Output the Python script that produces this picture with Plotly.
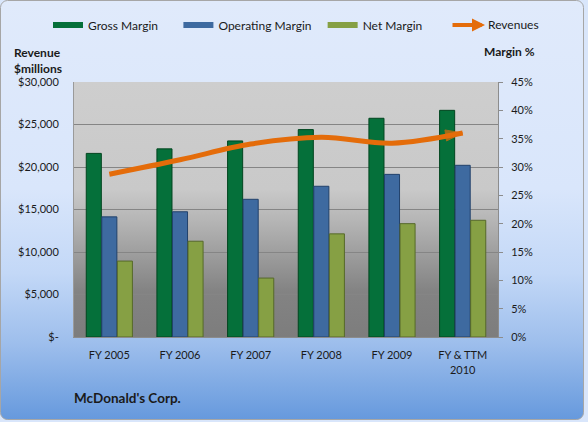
import base64
import plotly.graph_objects as go

categories = ["FY 2005", "FY 2006", "FY 2007", "FY 2008", "FY 2009", "FY & TTM<br>2010"]
gross_margin = [0.324, 0.332, 0.346, 0.366, 0.386, 0.400]
operating_margin = [0.212, 0.221, 0.243, 0.266, 0.287, 0.303]
net_margin = [0.134, 0.169, 0.104, 0.182, 0.200, 0.206]
revenues = [19150, 20850, 22700, 23500, 22800, 24000]

rev_ticks = [0, 5000, 10000, 15000, 20000, 25000, 30000]
rev_ticktext = ["$-", "$5,000", "$10,000", "$15,000", "$20,000", "$25,000", "$30,000"]

W, H = 588, 422
ML, MR, MT, MB = 74, 90, 82, 85
PW, PH = W - ML - MR, H - MT - MB

FONT = "Lato, 'Noto Sans', sans-serif"
GREEN, BLUE, OLIVE, ORANGE = "#05703a", "#3e6aa0", "#86a044", "#e46c0a"
NB = "\u00a0"


def px_x(p):
    return (p - ML) / PW


def px_y(p):
    return 1 - (p - MT) / PH


def svg_uri(svg):
    return "data:image/svg+xml;base64," + base64.b64encode(svg.encode()).decode()


paper_svg = f"""<svg xmlns='http://www.w3.org/2000/svg' width='{W}' height='{H}' viewBox='0 0 {W} {H}' preserveAspectRatio='none'>
<defs><linearGradient id='g' x1='0' y1='0' x2='0' y2='1'>
<stop offset='0' stop-color='#e0eafb'/><stop offset='0.45' stop-color='#d9e6fb'/>
<stop offset='0.65' stop-color='#c3d8f7'/><stop offset='0.82' stop-color='#9dbeec'/>
<stop offset='1' stop-color='#6699dd'/></linearGradient></defs>
<rect x='0.5' y='0.5' width='{W-5}' height='{H-3}' rx='7' ry='7' fill='url(#g)' stroke='#a6a6a6' stroke-width='1'/>
</svg>"""

plot_svg = """<svg xmlns='http://www.w3.org/2000/svg' width='100' height='100' viewBox='0 0 100 100' preserveAspectRatio='none'>
<defs><linearGradient id='p' x1='0' y1='0' x2='0' y2='1'>
<stop offset='0' stop-color='#cecece'/><stop offset='0.42' stop-color='#c9c9c9'/>
<stop offset='0.55' stop-color='#b4b4b4'/><stop offset='0.82' stop-color='#838383'/>
<stop offset='1' stop-color='#7d7d7d'/></linearGradient></defs>
<rect x='0' y='0' width='100' height='100' fill='url(#p)'/>
</svg>"""

fig = go.Figure()

for name, pad, vals, col, edge in [
    ("Gross Margin", 5, gross_margin, GREEN, "#02451f"),
    ("Operating Margin", 2, operating_margin, BLUE, "#22426b"),
    ("Net Margin", 0, net_margin, OLIVE, "#56692a"),
]:
    fig.add_trace(go.Bar(
        x=categories, y=vals, name=name, yaxis="y", showlegend=False,
        marker=dict(color=col, line=dict(color=edge, width=1)),
    ))
    fig.add_trace(go.Scatter(
        x=[None], y=[None], name=name + NB * pad, mode="lines", yaxis="y",
        line=dict(color=col, width=6), showlegend=True,
    ))

fig.add_trace(go.Scatter(
    x=categories, y=revenues, name="Revenues", yaxis="y2", mode="lines+markers",
    line=dict(color=ORANGE, width=5, shape="spline", smoothing=1),
    marker=dict(symbol=["circle"] * 5 + ["arrow"], size=[0] * 5 + [18],
                angleref="previous", color=ORANGE,
                line=dict(color=ORANGE, width=1)),
    showlegend=False,
))

fig.update_layout(
    width=W, height=H,
    margin=dict(l=ML, r=MR, t=MT, b=MB, autoexpand=False),
    paper_bgcolor="#d9e6fb",
    plot_bgcolor="rgba(0,0,0,0)",
    font=dict(family=FONT, size=11, color="#1a1a1a"),
    barmode="group", bargap=0.34, bargroupgap=0.03,
    xaxis=dict(showline=True, linecolor="#8c8c8c", ticks="", showgrid=False,
               tickfont=dict(size=11), ticklabelstandoff=8),
    yaxis=dict(side="right", range=[0, 0.45], dtick=0.05, tickformat=".0%",
               showgrid=False, zeroline=False, showline=True, linecolor="#8c8c8c",
               ticks="outside", ticklen=4, tickcolor="#8c8c8c",
               tickfont=dict(size=11), ticklabelstandoff=6),
    yaxis2=dict(side="left", overlaying="y", range=[0, 30000],
                tickvals=rev_ticks, ticktext=rev_ticktext,
                showgrid=True, gridcolor="#858585", gridwidth=1, zeroline=False,
                showline=True, linecolor="#9a9a9a", ticks="",
                tickfont=dict(size=11), ticklabelstandoff=12),
    legend=dict(orientation="h", xref="paper", yref="paper",
                x=px_x(48), y=px_y(25), xanchor="left", yanchor="middle",
                font=dict(size=12), bgcolor="rgba(0,0,0,0)", itemwidth=30,
                traceorder="normal"),
    images=[
        dict(source=svg_uri(paper_svg), xref="paper", yref="paper",
             x=px_x(0), y=px_y(0), sizex=W / PW, sizey=H / PH,
             sizing="stretch", layer="below", xanchor="left", yanchor="top"),
        dict(source=svg_uri(plot_svg), xref="paper", yref="paper",
             x=0, y=1, sizex=1, sizey=1,
             sizing="stretch", layer="below", xanchor="left", yanchor="top"),
    ],
    annotations=[
        # legend entry for the Revenues arrow line
        dict(text="", xref="paper", yref="paper", x=px_x(485), y=px_y(25),
             showarrow=True, ax=-34, ay=0, arrowhead=2, arrowsize=0.65,
             arrowwidth=4, arrowcolor=ORANGE),
        dict(text="Revenues", xref="paper", yref="paper", x=px_x(486), y=px_y(25),
             xanchor="left", yanchor="middle", showarrow=False, font=dict(size=12)),
        dict(text="<b>Revenue<br>$millions</b>", xref="paper", yref="paper",
             x=px_x(12), y=px_y(43), xanchor="left", yanchor="top",
             align="left", showarrow=False, font=dict(size=12)),
        dict(text="<b>Margin %</b>", xref="paper", yref="paper",
             x=px_x(537), y=px_y(51),
             xanchor="right", yanchor="middle", showarrow=False, font=dict(size=12)),
        dict(text="<b>McDonald's Corp.</b>", xref="paper", yref="paper",
             x=px_x(72), y=px_y(398), xanchor="left",
             yanchor="middle", showarrow=False, font=dict(size=13.5)),
    ],
)

fig.write_html("out.html", config={"displayModeBar": False},
               post_script="document.body.style.margin='0';")
